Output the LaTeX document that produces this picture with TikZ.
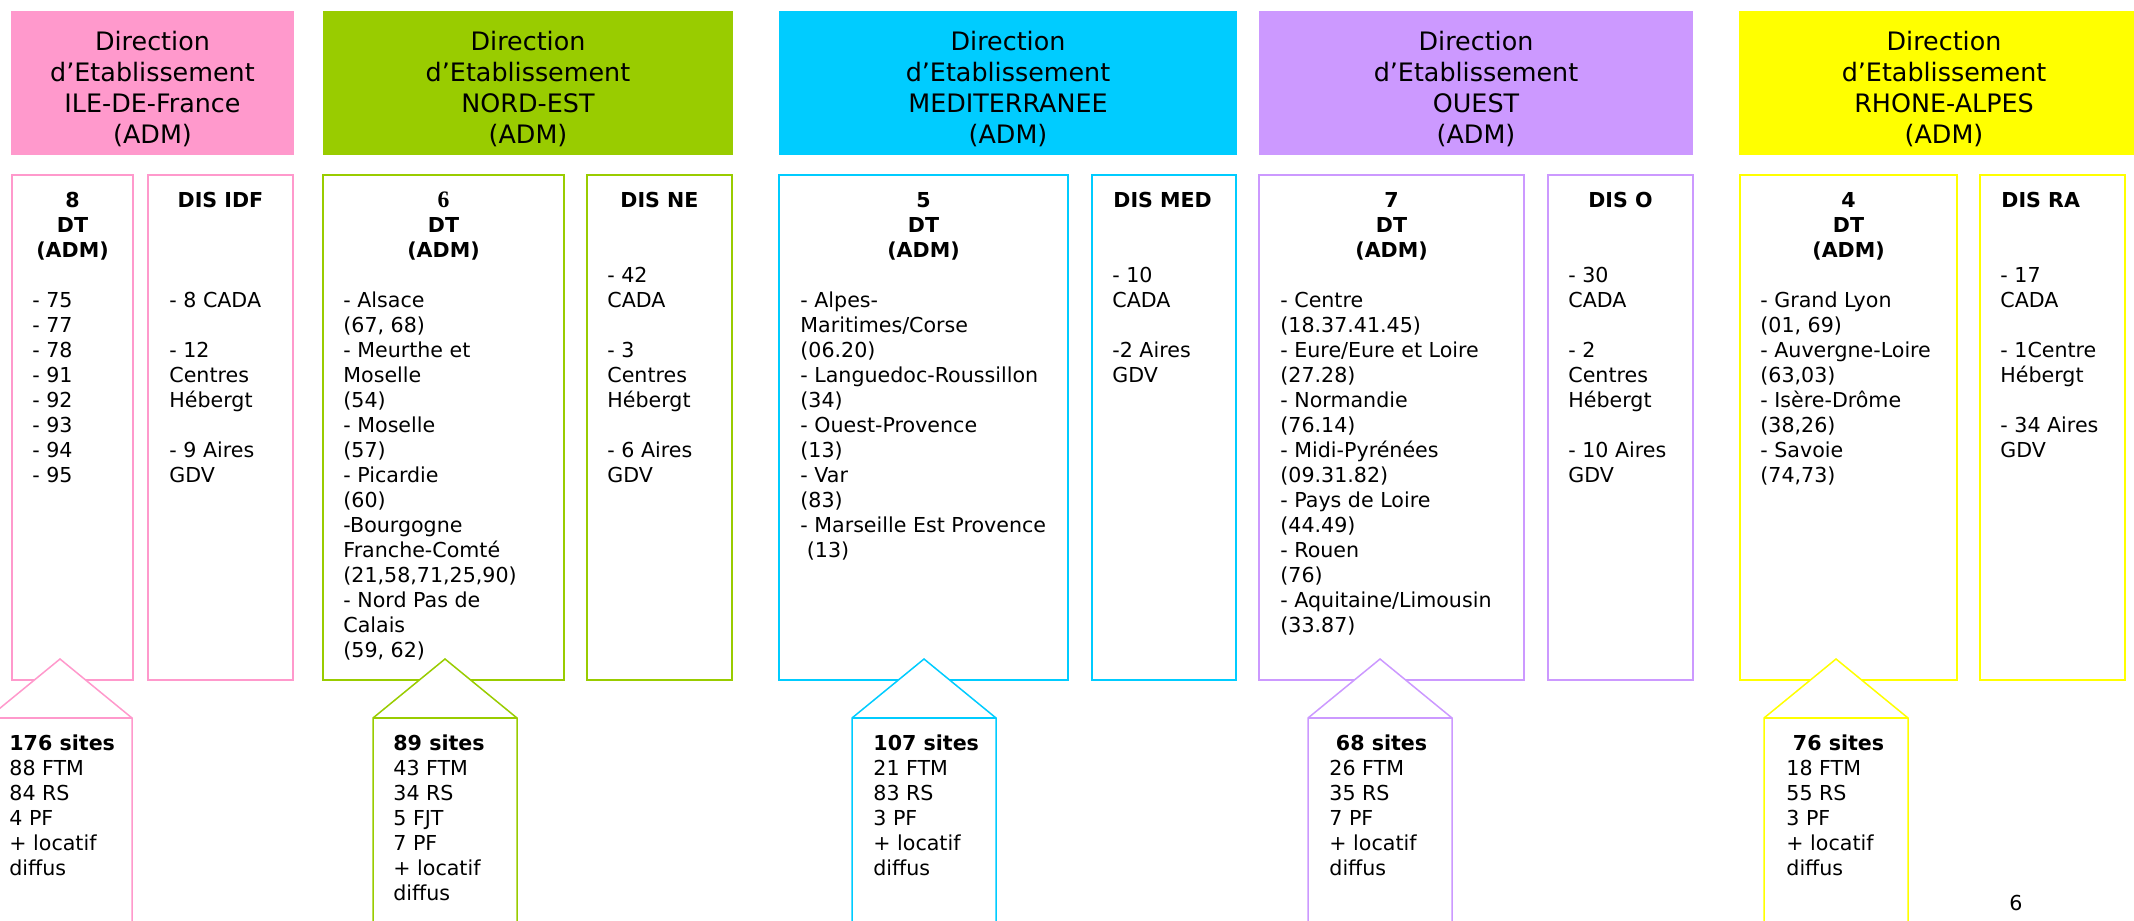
\documentclass[tikz,border=0pt]{standalone}
\usepackage{fontspec}
\setmainfont{DejaVu Sans}
\newfontfamily\serifsix{Liberation Serif}
\definecolor{cpink}{HTML}{FF99CC}
\definecolor{cgreen}{HTML}{99CC00}
\definecolor{ccyan}{HTML}{00CCFF}
\definecolor{cpurple}{HTML}{CC99FF}
\definecolor{cyellow}{HTML}{FFFF00}
\newcommand\st{\rule{0pt}{10pt}}
\newcommand\lsp{\hspace*{0.318em}}
\tikzset{
  hdr/.style={fill=#1, draw=none, inner sep=0pt, outer sep=0pt, minimum height=72pt},
  colbox/.style={draw=#1, line width=0.75pt, inner sep=0pt, outer sep=0pt, minimum height=252.5pt},
  htext/.style={anchor=north, align=center, inner sep=0pt, font=\fontsize{12.7}{15.5}\selectfont},
  ttext/.style={anchor=north, align=center, inner sep=0pt, font=\fontsize{10.3}{12.5}\selectfont\bfseries},
  tltext/.style={anchor=north west, align=left, inner sep=0pt, font=\fontsize{10.3}{12.5}\selectfont\bfseries},
  ltext/.style={anchor=north west, align=left, inner sep=0pt, font=\fontsize{10.3}{12.5}\selectfont},
  arrline/.style={draw=#1, line width=0.75pt},
}
\newcommand\uparrowshape[3]{% name, cx, colour
  \coordinate (#1) at (#2,659);
  \draw[arrline=#3, fill=white] ({#2-72},930) -- ({#2-72},718) -- (#1) -- ({#2+72},718) -- ({#2+72},930);
  \draw[arrline=#3, line width=1.2pt] ({#2-72},718) -- ({#2+72},718);
}
\begin{document}
\begin{tikzpicture}[x=0.5pt, y=-0.5pt]
\useasboundingbox (0,0) rectangle (2134,920);
\clip (0,0) rectangle (2134,920);
% headers
\node[hdr=cpink, minimum width=141.5pt] (h1) at (152.5,83) {};
\node[hdr=cgreen, minimum width=205pt] (h2) at (528,83) {};
\node[hdr=ccyan, minimum width=229pt] (h3) at (1008,83) {};
\node[hdr=cpurple, minimum width=217pt] (h4) at (1476,83) {};
\node[hdr=cyellow, minimum width=205pt] (h5) at (1944,83) {};
\node[htext] (h1t) at (152.5,30) {\st Direction\\d’Etablissement\\ILE-DE-France\\(ADM)};
\node[htext] (h2t) at (528,30) {\st Direction\\d’Etablissement\\NORD-EST\\(ADM)};
\node[htext] (h3t) at (1008,30) {\st Direction\\d’Etablissement\\MEDITERRANEE\\(ADM)};
\node[htext] (h4t) at (1476,30) {\st Direction\\d’Etablissement\\OUEST\\(ADM)};
\node[htext] (h5t) at (1944,30) {\st Direction\\d’Etablissement\\RHONE-ALPES\\(ADM)};
% boxes
\node[colbox=cpink, minimum width=60.5pt] (dt1) at (72.5,427.5) {};
\node[colbox=cpink, minimum width=72.5pt] (dis1) at (220.5,427.5) {};
\node[colbox=cgreen, minimum width=120.5pt] (dt2) at (443.5,427.5) {};
\node[colbox=cgreen, minimum width=72.5pt] (dis2) at (659.5,427.5) {};
\node[colbox=ccyan, minimum width=144.5pt] (dt3) at (923.5,427.5) {};
\node[colbox=ccyan, minimum width=72pt] (dis3) at (1164,427.5) {};
\node[colbox=cpurple, minimum width=132.5pt] (dt4) at (1391.5,427.5) {};
\node[colbox=cpurple, minimum width=72.5pt] (dis4) at (1620.5,427.5) {};
\node[colbox=cyellow, minimum width=108.5pt] (dt5) at (1848.5,427.5) {};
\node[colbox=cyellow, minimum width=72.5pt] (dis5) at (2052.5,427.5) {};
% DT titles
\node[ttext] (dt1t) at (72.5,187) {\st 8\\DT\\(ADM)};
\node[ttext] (dt2t) at (443.5,187) {\st{\serifsix\fontsize{11.8}{12.5}\selectfont\bfseries 6}\\DT\\(ADM)};
\node[ttext] (dt3t) at (923.5,187) {\st 5\\DT\\(ADM)};
\node[ttext] (dt4t) at (1391.5,187) {\st 7\\DT\\(ADM)};
\node[ttext] (dt5t) at (1848.5,187) {\st 4\\DT\\(ADM)};
% DIS titles
\node[ttext] (dis1t) at (220.5,187) {\st DIS IDF};
\node[ttext] (dis2t) at (659.5,187) {\st DIS NE};
\node[tltext] (dis3t) at (1113,187) {\st DIS MED};
\node[ttext] (dis4t) at (1620.5,187) {\st DIS O};
\node[tltext] (dis5t) at (2001,187) {\st DIS RA};
% DT lists
\node[ltext] (dt1l) at (32,287) {\st - 75\\- 77\\- 78\\- 91\\- 92\\- 93\\- 94\\- 95};
\node[ltext] (dt2l) at (343,287) {\st - Alsace\\(67, 68)\\- Meurthe et\\Moselle\\(54)\\- Moselle\\(57)\\- Picardie\\(60)\\-Bourgogne\\Franche-Comté\\(21,58,71,25,90)\\- Nord Pas de\\Calais\\(59, 62)};
\node[ltext] (dt3l) at (800,287) {\st - Alpes-\\Maritimes/Corse\\(06.20)\\- Languedoc-Roussillon\\(34)\\- Ouest-Provence\\(13)\\- Var\\(83)\\- Marseille Est Provence\\\lsp(13)};
\node[ltext] (dt4l) at (1280,287) {\st - Centre\\(18.37.41.45)\\- Eure/Eure et Loire\\(27.28)\\- Normandie\\(76.14)\\- Midi-Pyrénées\\(09.31.82)\\- Pays de Loire\\(44.49)\\- Rouen\\(76)\\- Aquitaine/Limousin\\(33.87)};
\node[ltext] (dt5l) at (1760,287) {\st - Grand Lyon\\(01, 69)\\- Auvergne-Loire\\(63,03)\\- Isère-Drôme\\(38,26)\\- Savoie\\(74,73)};
% DIS lists
\node[ltext] (dis1l) at (169,287) {\st - 8 CADA\\[12.5pt]- 12\\Centres\\Hébergt\\[12.5pt]- 9 Aires\\GDV};
\node[ltext] (dis2l) at (607,262) {\st - 42\\CADA\\[12.5pt]- 3\\Centres\\Hébergt\\[12.5pt]- 6 Aires\\GDV};
\node[ltext] (dis3l) at (1112,262) {\st - 10\\CADA\\[12.5pt]-2 Aires\\GDV};
\node[ltext] (dis4l) at (1568,262) {\st - 30\\CADA\\[12.5pt]- 2\\Centres\\Hébergt\\[12.5pt]- 10 Aires\\GDV};
\node[ltext] (dis5l) at (2000,262) {\st - 17\\CADA\\[12.5pt]- 1Centre\\Hébergt\\[12.5pt]- 34 Aires\\GDV};
% arrows
\uparrowshape{a1}{60}{cpink}
\uparrowshape{a2}{445}{cgreen}
\uparrowshape{a3}{924}{ccyan}
\uparrowshape{a4}{1380}{cpurple}
\uparrowshape{a5}{1836}{cyellow}
\node[ltext] (a1t) at (9,730) {\st\textbf{176 sites}\\88 FTM\\84 RS\\4 PF\\+ locatif\\diffus};
\node[ltext] (a2t) at (393,730) {\st\textbf{89 sites}\\43 FTM\\34 RS\\5 FJT\\7 PF\\+ locatif\\diffus};
\node[ltext] (a3t) at (873,730) {\st\textbf{107 sites}\\21 FTM\\83 RS\\3 PF\\+ locatif\\diffus};
\node[ltext] (a4t) at (1329,730) {\st\lsp\textbf{68 sites}\\26 FTM\\35 RS\\7 PF\\+ locatif\\diffus};
\node[ltext] (a5t) at (1786,730) {\st\lsp\textbf{76 sites}\\18 FTM\\55 RS\\3 PF\\+ locatif\\diffus};
% page number
\node[anchor=base, inner sep=0pt, font=\fontsize{10.3}{12.5}\selectfont] (pg) at (2016,910) {6};
\end{tikzpicture}
\end{document}
